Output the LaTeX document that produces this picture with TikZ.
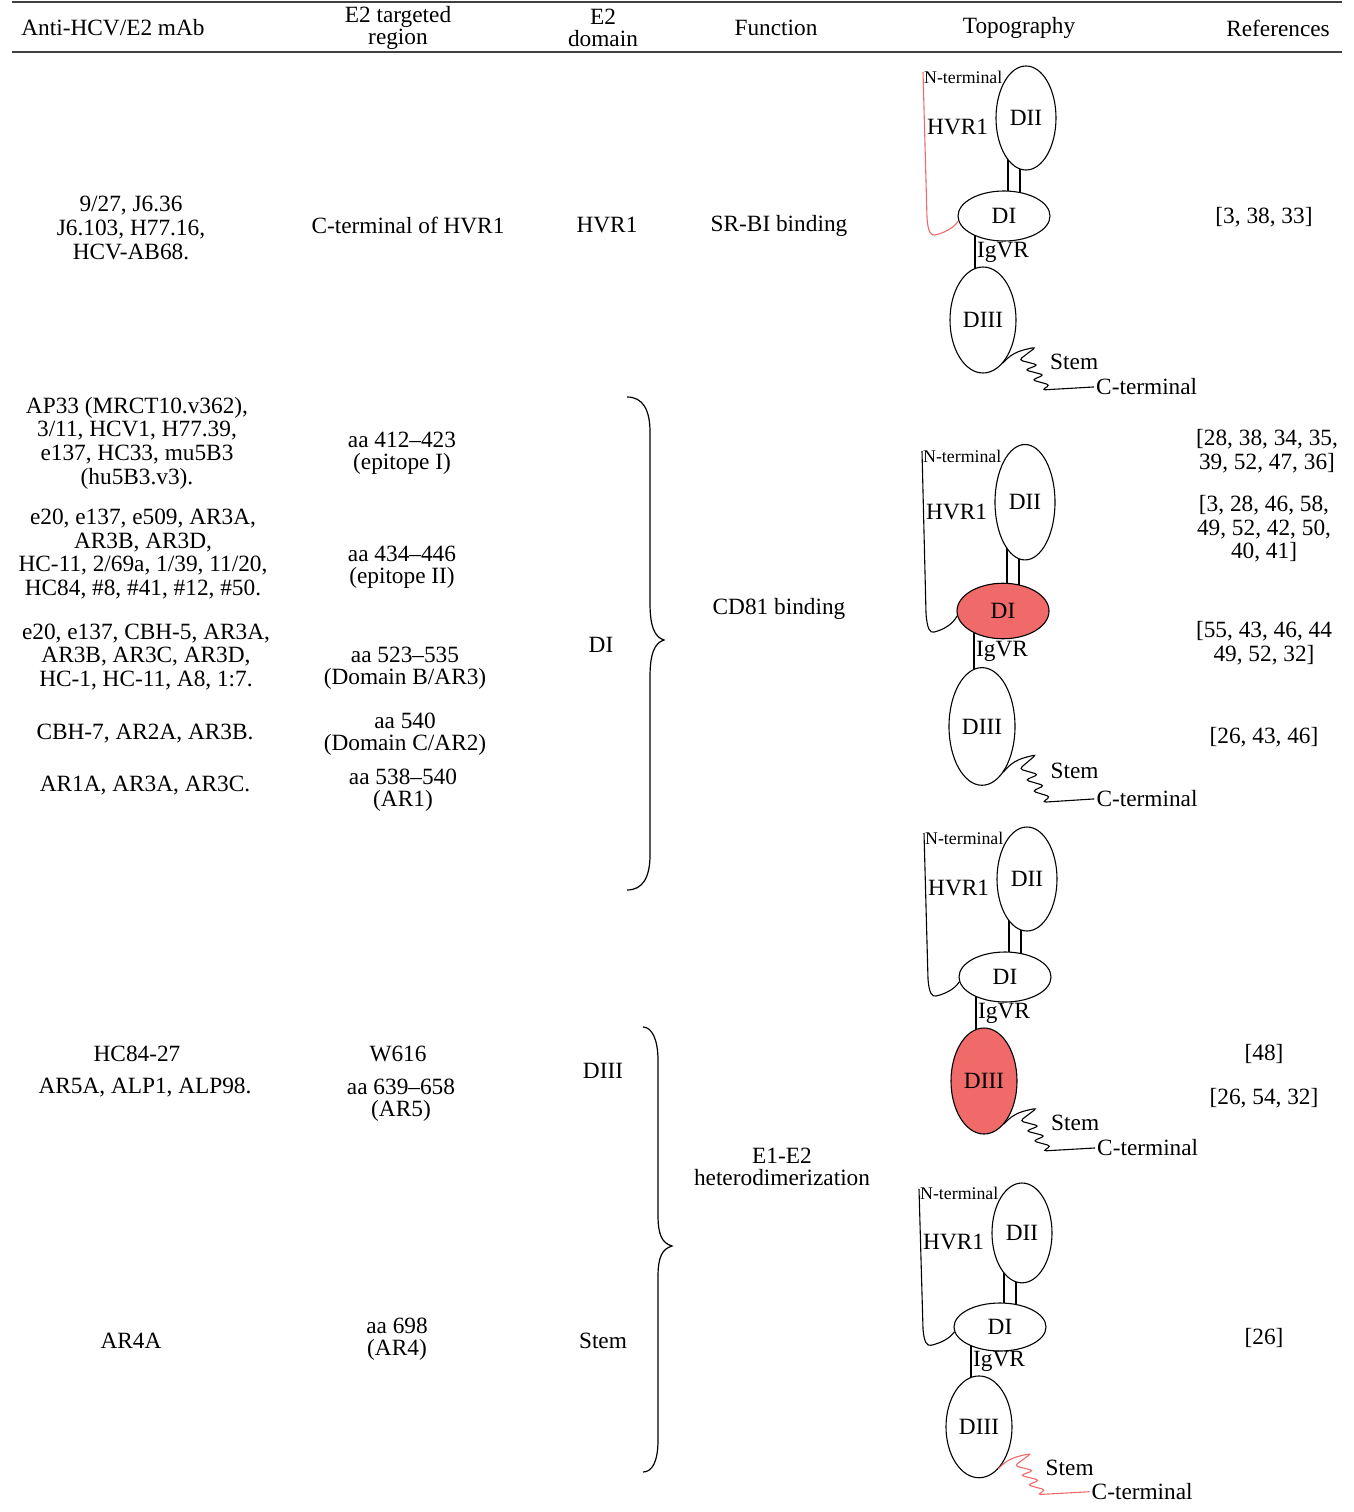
\documentclass[tikz,border=0pt]{standalone}
\usepackage{fontspec}
\setmainfont{Liberation Serif}
\usetikzlibrary{shapes.geometric,calc}
\definecolor{hred}{RGB}{241,106,106}
\tikzset{
 txt/.style={font=\fontsize{23.3}{23.7}\selectfont, align=center, inner sep=0pt},
 hdr/.style={font=\fontsize{23.3}{22}\selectfont, align=center, inner sep=0pt},
 cellb/.style={font=\fontsize{23.3}{22}\selectfont, align=center, inner sep=0pt},
 ell/.style={draw, ellipse, line width=1.1pt, fill=white, inner sep=0pt, font=\fontsize{23.3}{23}\selectfont},
 lbl/.style={font=\fontsize{23.3}{23}\selectfont, inner sep=0pt, anchor=west},
 smalllbl/.style={font=\fontsize{17.8}{17}\selectfont, inner sep=0pt, anchor=west},
 ln/.style={line width=1.1pt},
 rulel/.style={line width=1.2pt, draw=black!75},
 bracel/.style={line width=1.2pt},
}
\newcommand{\topo}[8]{%
\begin{scope}[shift={(#2,#3)}, yscale=#4]
 \draw[ln] (4,-62) -- (4,-15);
 \draw[ln] (16,-62) -- (16,-15);
 \draw[ln] (-29,0) -- (-29,70);
 \node[ell, minimum width=60pt, minimum height={104pt*#4}] (#1dii) at (22,-98) {DII};
 \node[ell, fill=#5, minimum width=92pt, minimum height={50pt*#4}] (#1di) at (0,0) {DI};
 \node[ell, fill=#6, minimum width=66pt, minimum height={106pt*#4}] (#1diii) at (-21,104) {DIII};
 \node[smalllbl] (#1nt) at (-80,-139) {N-terminal};
 \node[lbl] (#1hvr) at (-77,-89) {HVR1};
 \node[lbl] (#1igvr) at (-27,36) {IgVR};
 \draw[ln, draw=#7] (-81,-144) -- (-77,2) .. controls (-76,16) and (-73,20) .. (-69,19) .. controls (-60,17) and (-50,12) .. (#1di.186);
 \draw[ln, draw=#8, rounded corners=3.5pt] (#1diii.-65) .. controls +(10,-12) and +(-12,3) .. ++(33,-16) coordinate (#1pk) -- ++(-17,13) -- ++(19,5) -- ++(-13,5) -- ++(19,5) -- ++(-12,5) -- ++(18,5) -- ++(-8,5) -- ++(52,-3) coordinate (#1ce);
 \node[lbl] (#1stem) at ($(#1pk)+(14,15)$) {Stem};
 \node[lbl, inner sep=2pt] (#1ct) at (#1ce) {C-terminal};
\end{scope}}
\begin{document}
\begin{tikzpicture}[x=1pt,y=-1pt]
\useasboundingbox[fill=white] (0,0) rectangle (1354,1512);
% rules
\draw[rulel] (12,2) -- (1342,2);
\draw[rulel] (12,52) -- (1342,52);
% header
\node[hdr] (h1) at (113,28) {Anti-HCV/E2 mAb};
\node[hdr] (h2) at (398,28) {E2 targeted\\region};
\node[hdr] (h3) at (603,28) {E2\\domain};
\node[hdr] (h4) at (776,28) {Function};
\node[hdr] (h5) at (1019,28) {Topography};
\node[hdr] (h6) at (1278,28) {References};
% column 1
\node[txt] (a1) at (131,228) {9/27, J6.36\\J6.103, H77.16,\\HCV-AB68.};
\node[txt] (a2) at (137,443) {AP33 (MRCT10.v362),\\3/11, HCV1, H77.39,\\e137, HC33, mu5B3\\(hu5B3.v3).};
\node[txt] (a3) at (143,554) {e20, e137, e509, AR3A,\\AR3B, AR3D,\\HC-11, 2/69a, 1/39, 11/20,\\HC84, \#8, \#41, \#12, \#50.};
\node[txt] (a4) at (146,657) {e20, e137, CBH-5, AR3A,\\AR3B, AR3C, AR3D,\\HC-1, HC-11, A8, 1:7.};
\node[txt] (a5) at (145,734) {CBH-7, AR2A, AR3B.};
\node[txt] (a6) at (145,786) {AR1A, AR3A, AR3C.};
\node[txt] (a7) at (137,1054) {HC84-27};
\node[txt] (a8) at (145,1088) {AR5A, ALP1, ALP98.};
\node[txt] (a9) at (131,1341) {AR4A};
% column 2
\node[cellb] (b1) at (408,225) {C-terminal of HVR1};
\node[cellb] (b2) at (402,453) {aa 412–423\\(epitope I)};
\node[cellb] (b3) at (402,567) {aa 434–446\\(epitope II)};
\node[cellb] (b4) at (405,668) {aa 523–535\\(Domain B/AR3)};
\node[cellb] (b5) at (405,734) {aa 540\\(Domain C/AR2)};
\node[cellb] (b6) at (403,790) {aa 538–540\\(AR1)};
\node[cellb] (b7) at (398,1054) {W616};
\node[cellb] (b8) at (401,1100) {aa 639–658\\(AR5)};
\node[cellb] (b9) at (397,1339) {aa 698\\(AR4)};
% column 3
\node[txt] (c1) at (607,225) {HVR1};
\node[txt] (c2) at (601,645) {DI};
\node[txt] (c3) at (603,1071) {DIII};
\node[txt] (c4) at (603,1341) {Stem};
% braces
\draw[bracel] (627,397) .. controls (643,397) and (650,410) .. (650,432) -- (650,603) .. controls (650,625) and (654,637) .. (664,640) .. controls (654,643) and (650,655) .. (650,677) -- (650,855) .. controls (650,877) and (643,890) .. (627,890);
\draw[bracel] (643,1027) .. controls (652,1027) and (658,1040) .. (658,1060) -- (658,1215) .. controls (658,1235) and (662,1243) .. (672,1246) .. controls (662,1249) and (658,1257) .. (658,1277) -- (658,1440) .. controls (658,1462) and (652,1472) .. (643,1472);
% column 4
\node[txt] (d1) at (779,226) {SR-BI binding};
\node[txt] (d2) at (779,609) {CD81 binding};
\node[cellb] (d3) at (782,1167) {E1-E2\\heterodimerization};
% topography
\topo{ta}{1004}{216}{1}{white}{white}{hred}{black}
\topo{tb}{1003}{611}{1.11}{hred}{white}{black}{black}
\topo{tc}{1005}{977}{1}{white}{hred}{black}{black}
\topo{td}{1000}{1327}{0.96}{white}{white}{black}{hred}
% references
\node[txt] (f1) at (1264,217) {[3, 38, 33]};
\node[txt] (f2) at (1267,451) {[28, 38, 34, 35,\\39, 52, 47, 36]};
\node[txt] (f3) at (1264,529) {[3, 28, 46, 58,\\49, 52, 42, 50,\\40, 41]};
\node[txt] (f4) at (1264,643) {[55, 43, 46, 44\\49, 52, 32]};
\node[txt] (f5) at (1264,737) {[26, 43, 46]};
\node[txt] (f6) at (1264,1054) {[48]};
\node[txt] (f7) at (1264,1098) {[26, 54, 32]};
\node[txt] (f8) at (1264,1338) {[26]};
\end{tikzpicture}
\end{document}
